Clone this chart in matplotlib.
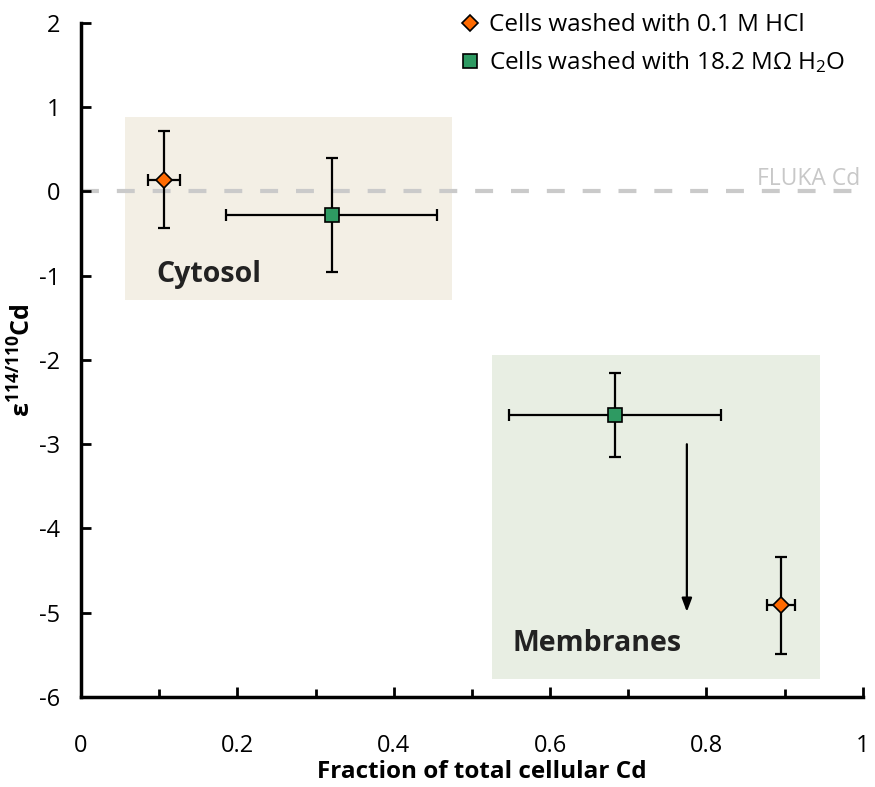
import matplotlib
matplotlib.use("Agg")
import matplotlib.pyplot as plt
from matplotlib.ticker import MultipleLocator, FuncFormatter

plt.rcParams['font.family'] = ['Open Sans', 'DejaVu Sans']
plt.rcParams['mathtext.fontset'] = 'custom'
plt.rcParams['mathtext.rm'] = 'Open Sans'
plt.rcParams['mathtext.bf'] = 'Open Sans:bold'
plt.rcParams['mathtext.it'] = 'Open Sans:italic'

# cells washed with 0.1 M HCl (cytosol, membranes)
hcl_x = [0.106, 0.895]
hcl_xerr = [0.020, 0.018]
hcl_y = [0.14, -4.91]
hcl_yerr = [0.575, 0.575]

# cells washed with 18.2 MOhm water (cytosol, membranes)
h2o_x = [0.321, 0.683]
h2o_xerr = [0.135, 0.136]
h2o_y = [-0.28, -2.65]
h2o_yerr = [0.68, 0.50]

fluka_ref = 0.0
arrow_x = 0.775
arrow_from = -3.0
arrow_to = -4.99

orange = '#FF6A00'
green = '#2E9A62'

fig = plt.figure(figsize=(8.75, 7.87), dpi=100)
ax = fig.add_axes([0.0926, 0.1144, 0.8934, 0.8564])

# shaded compartments
ax.add_patch(plt.Rectangle((0.056, -1.29), 0.418, 2.175, color='#F3EFE5', lw=0, zorder=0))
ax.add_patch(plt.Rectangle((0.526, -5.79), 0.419, 3.85, color='#E8EEE3', lw=0, zorder=0))
ax.text(0.097, -0.98, 'Cytosol', fontsize=20.5, fontweight='bold', color='#222222', va='center')
ax.text(0.552, -5.36, 'Membranes', fontsize=20.5, fontweight='bold', color='#222222', va='center')

# FLUKA reference line
ax.axhline(fluka_ref, color='#CACACA', lw=3, ls=(0, (4.3, 4.3)), zorder=1)
ax.text(0.997, 0.15, 'FLUKA Cd', fontsize=16.5, color='#C8C8C8', ha='right', va='center')

ax.annotate('', xy=(arrow_x, arrow_to), xytext=(arrow_x, arrow_from),
            arrowprops=dict(arrowstyle='-|>,head_length=0.8,head_width=0.3', color='black', lw=1.6,
                            shrinkA=0, shrinkB=0), zorder=3)

ekw = dict(fmt='none', ecolor='black', elinewidth=1.6, capsize=4.5, capthick=1.6, zorder=3)
ax.errorbar(hcl_x, hcl_y, xerr=hcl_xerr, yerr=hcl_yerr, **ekw)
ax.errorbar(h2o_x, h2o_y, xerr=h2o_xerr, yerr=h2o_yerr, **ekw)
ax.plot(hcl_x, hcl_y, 'D', ms=8, mfc=orange, mec='black', mew=1.2, ls='none', zorder=4,
        label='Cells washed with 0.1 M HCl')
ax.plot(h2o_x, h2o_y, 's', ms=10, mfc=green, mec='black', mew=1.2, ls='none', zorder=4,
        label=r'Cells washed with 18.2 MΩ H$_\mathregular{2}$O')

ax.legend(loc='upper right', bbox_to_anchor=(1.0, 1.04), frameon=False, fontsize=17.5,
          handlelength=0.7, handletextpad=0.45, labelspacing=0.5, borderpad=0.2)

ax.set_xlim(0, 1)
ax.set_ylim(-6, 2)
ax.xaxis.set_major_locator(MultipleLocator(0.2))
ax.xaxis.set_minor_locator(MultipleLocator(0.1))
ax.yaxis.set_major_locator(MultipleLocator(1))
ax.xaxis.set_major_formatter(FuncFormatter(lambda v, p: f'{v:g}'))
ax.yaxis.set_major_formatter(FuncFormatter(lambda v, p: f'{v:g}'))

for side in ['top', 'right']:
    ax.spines[side].set_visible(False)
for side in ['left', 'bottom']:
    ax.spines[side].set_linewidth(2.5)

ax.tick_params(axis='both', which='both', direction='in', width=2, labelsize=17)
ax.tick_params(axis='x', which='major', length=7, pad=27)
ax.tick_params(axis='x', which='minor', length=6)
ax.tick_params(axis='y', which='major', length=7, pad=15)

ax.set_xlabel('Fraction of total cellular Cd', fontsize=17.5, fontweight='bold', labelpad=0)
ax.xaxis.set_label_coords(0.513, -0.093)
ax.set_ylabel(r'$\mathbf{ε^{114/110}Cd}$', fontsize=18, labelpad=2)

fig.savefig('out.png', dpi=100)
